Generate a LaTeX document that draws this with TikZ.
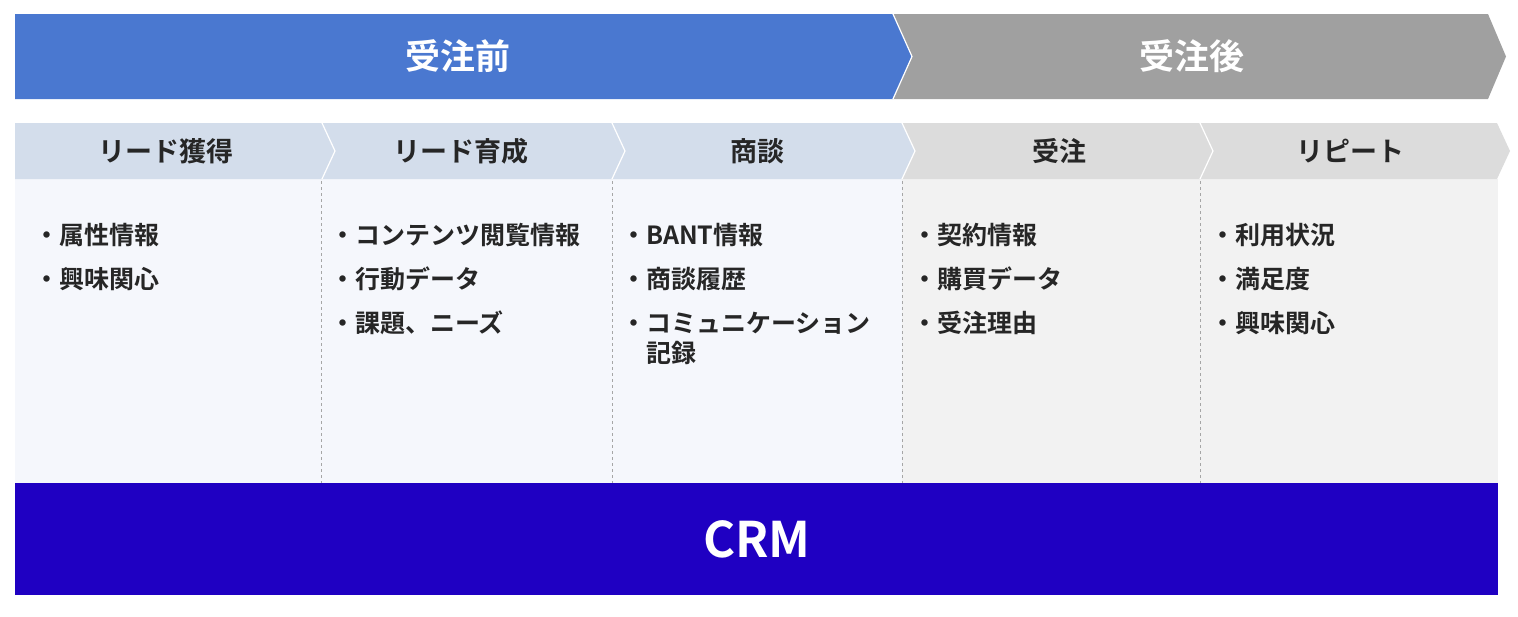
\documentclass[tikz,border=0pt]{standalone}
\usepackage{fontspec}
\newfontfamily\jp{Noto Sans CJK JP}[BoldFont={* Bold}]
\definecolor{pblue}{HTML}{4A78D0}
\definecolor{pgray}{HTML}{A0A0A0}
\definecolor{cblue}{HTML}{D3DDEB}
\definecolor{cgray}{HTML}{DCDCDC}
\definecolor{bblue}{HTML}{F5F7FC}
\definecolor{bgray}{HTML}{F2F2F2}
\definecolor{crm}{HTML}{1F00C2}
\begin{document}
\begin{tikzpicture}[x=1pt,y=-1pt,
 big/.style={text=white,font=\jp\bfseries\fontsize{35}{38}\selectfont},
 lab/.style={text=black!85,font=\jp\bfseries\fontsize{27}{30}\selectfont},
 item/.style={anchor=north west,text=black!85,font=\jp\bfseries\fontsize{25}{44}\selectfont,align=left,inner sep=0pt},
 sep/.style={draw=gray!70,dashed,line width=0.8pt}]
\useasboundingbox (0,0) rectangle (1518,616);
% top arrows
\fill[pblue] (15,14) -- (893,14) -- (912,56.5) -- (893,99) -- (15,99) -- cycle;
\fill[pgray] (893,14) -- (1488,14) -- (1506,56.5) -- (1488,99) -- (893,99) -- (912,56.5) -- cycle;
\draw[white,line width=1.2pt] (893,14) -- (912,56.5) -- (893,99);
\node[big] (pre) at (458,56.5) {受注前};
\node[big] (post) at (1192,56.5) {受注後};
% bodies
\fill[bblue] (15,179) rectangle (902,483);
\fill[bgray] (902,179) rectangle (1498,483);
% chevrons
\fill[cblue] (15,123) -- (322,123) -- (335,151) -- (322,179) -- (15,179) -- cycle;
\fill[cblue] (322,123) -- (612,123) -- (625,151) -- (612,179) -- (322,179) -- (335,151) -- cycle;
\fill[cblue] (612,123) -- (902,123) -- (915,151) -- (902,179) -- (612,179) -- (625,151) -- cycle;
\fill[cgray] (902,123) -- (1200,123) -- (1213,151) -- (1200,179) -- (902,179) -- (915,151) -- cycle;
\fill[cgray] (1200,123) -- (1497,123) -- (1510,151) -- (1497,179) -- (1200,179) -- (1213,151) -- cycle;
\foreach \x in {322,612,902,1200}{\draw[white,line width=1.2pt] (\x,123) -- (\x+13,151) -- (\x,179);}
\node[lab] (c1) at (166,151) {リード獲得};
\node[lab] (c2) at (461,151) {リード育成};
\node[lab] (c3) at (757,151) {商談};
\node[lab] (c4) at (1059,151) {受注};
\node[lab] (c5) at (1350,151) {リピート};
% separators
\foreach \x in {321,612,902,1200}{\draw[sep] (\x,181) -- (\x,483);}
% items
\node[item] (i1) at (34,223) {・属性情報\\・興味関心};
\node[item] (i2) at (330,223) {・コンテンツ閲覧情報\\・行動データ\\・課題、ニーズ};
\node[item] (i3) at (621,223) {・BANT情報\\・商談履歴\\・コミュニケーション\\[-14pt]\hspace*{1em}記録};
\node[item] (i4) at (912,223) {・契約情報\\・購買データ\\・受注理由};
\node[item] (i5) at (1210,223) {・利用状況\\・満足度\\・興味関心};
% CRM
\fill[crm] (15,483) rectangle (1498,595);
\node[big,font=\jp\bfseries\fontsize{49}{52}\selectfont] (crm) at (757,539) {CRM};
\end{tikzpicture}
\end{document}
